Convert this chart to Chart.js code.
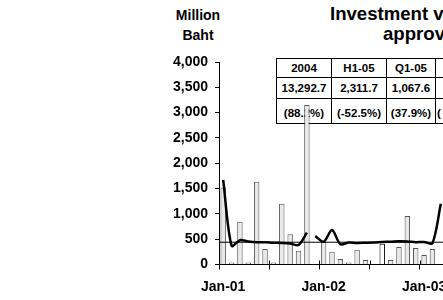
<!DOCTYPE html>
<html>
<head>
<meta charset="utf-8">
<script src="https://cdn.jsdelivr.net/npm/chart.js@4.4.1/dist/chart.umd.min.js"></script>
<style>
  html, body { margin: 0; padding: 0; background: #fff; overflow: hidden; }
  #wrap {
    position: relative; width: 443px; height: 300px; overflow: hidden;
    font-family: 'Liberation Sans', Arial, sans-serif; font-weight: bold; color: #000;
  }
  #chart { position: absolute; left: 0; top: 0; z-index: 2; }
  .lbl { position: absolute; white-space: nowrap; line-height: 1; }
  .unit { left: 168px; width: 60px; text-align: center; font-size: 14px; }
  .title { font-size: 18.6px; }
  #summary {
    position: absolute; left: 276px; top: 58px; z-index: 1;
    border-collapse: collapse; table-layout: fixed; width: 214px;
    font-size: 11.5px; background: transparent;
  }
  #summary td { border: 1px solid #000; text-align: center; padding: 0; white-space: nowrap; overflow: hidden; }
  #summary tr.r1 td { height: 18px; }
  #summary tr.r2 td { height: 19.5px; }
  #summary tr.r3 td { height: 25.5px; padding-top: 4px; box-sizing: border-box; }
  #summary td.cut { text-align: left; padding-left: 1px; }
</style>
</head>
<body>
<div id="wrap">
  <div class="lbl unit" style="top:8px">Million</div>
  <div class="lbl unit" style="top:28px">Baht</div>
  <div class="lbl title" style="left:330px;top:4.5px">Investment value of BOI</div>
  <div class="lbl title" style="left:383px;top:24.5px">approved projects</div>

  <table id="summary">
    <colgroup><col style="width:55px"><col style="width:55px"><col style="width:49px"><col style="width:55px"></colgroup>
    <tr class="r1"><td>2004</td><td>H1-05</td><td>Q1-05</td><td></td></tr>
    <tr class="r2"><td>13,292.7</td><td>2,311.7</td><td>1,067.6</td><td></td></tr>
    <tr class="r3"><td>(88.2%)</td><td>(-52.5%)</td><td>(37.9%)</td><td class="cut">(</td></tr>
  </table>

  <canvas id="chart" width="450" height="300"></canvas>
</div>

<script>
  // months on the axis (only January is labelled)
  var monthLabels = [
    'Jan-01', 'Feb-01', 'Mar-01', 'Apr-01', 'May-01', 'Jun-01', 'Jul-01', 'Aug-01', 'Sep-01', 'Oct-01', 'Nov-01', 'Dec-01',
    'Jan-02', 'Feb-02', 'Mar-02', 'Apr-02', 'May-02', 'Jun-02', 'Jul-02', 'Aug-02', 'Sep-02', 'Oct-02', 'Nov-02', 'Dec-02',
    'Jan-03', 'Feb-03', 'Mar-03'
  ];

  // monthly approved investment, million baht
  var approvedValues = [
    1520, 40, 845, 40, 1635, 305, 40, 1200, 600, 270, 3150, null,
    450, 250, 110, 40, 290, 90, 15, 410, 90, 345, 960, 325,
    190, 305, null
  ];

  // smoothed trend, Jan-01 to Nov-01 and Dec-01 onwards (line breaks between them)
  var trend2001 = [1670, 370, 480, 455, 440, 440, 430, 425, 415, 385, 630];
  var trendFrom2002 = [560, 450, 680, 400, 435, 425, 430, 435, 445, 450, 460, 455, 440, 445, 420, 1200];

  var averageValue = 440;
  var yTicks = [0, 500, 1000, 1500, 2000, 2500, 3000, 3500, 4000];

  function pad(n) { var a = []; for (var i = 0; i < n; i++) a.push(null); return a; }
  var trendA = trend2001.concat(pad(monthLabels.length - trend2001.length));
  var trendB = pad(monthLabels.length - trendFrom2002.length).concat(trendFrom2002);

  var font = { family: "'Liberation Sans', Arial, sans-serif", weight: 'bold', size: 14 };

  // thin flat line across the plot at the average level
  var averageLine = {
    id: 'averageLine',
    afterDatasetsDraw: function(chart) {
      var ctx = chart.ctx, area = chart.chartArea;
      var y = chart.scales.y.getPixelForValue(averageValue);
      ctx.save();
      ctx.strokeStyle = '#000';
      ctx.lineWidth = 1;
      ctx.beginPath();
      ctx.moveTo(area.left, y);
      ctx.lineTo(area.right, y);
      ctx.stroke();
      ctx.restore();
    }
  };

  // half-year tick marks cross the x axis (upper half drawn here)
  var crossTicks = {
    id: 'crossTicks',
    afterDraw: function(chart) {
      var ctx = chart.ctx, x = chart.scales.x, bottom = chart.chartArea.bottom;
      var half = (x.getPixelForTick(1) - x.getPixelForTick(0)) / 2;
      ctx.save();
      ctx.strokeStyle = '#000';
      ctx.lineWidth = 1;
      ctx.beginPath();
      for (var i = 6; i < monthLabels.length; i += 6) {
        var px = Math.round(x.getPixelForTick(i) - half) + 0.5;
        ctx.moveTo(px, bottom - 4);
        ctx.lineTo(px, bottom);
      }
      ctx.stroke();
      ctx.restore();
    }
  };

  var chart = new Chart(document.getElementById('chart').getContext('2d'), {
    type: 'bar',
    data: {
      labels: monthLabels,
      datasets: [{
        type: 'line',
        data: trendA,
        borderColor: '#000',
        borderWidth: 2.5,
        pointRadius: 0,
        tension: 0.3,
        spanGaps: false,
        order: 1
      }, {
        type: 'line',
        data: trendB,
        borderColor: '#000',
        borderWidth: 2.5,
        pointRadius: 0,
        tension: 0.3,
        spanGaps: false,
        order: 1
      }, {
        data: approvedValues,
        backgroundColor: approvedValues.map(function(v, i) { return i === 19 ? '#fff' : '#e8e8e8'; }),
        borderColor: approvedValues.map(function(v, i) { return i === 19 ? '#000' : '#555'; }),
        borderWidth: 1,
        barPercentage: 0.65,
        categoryPercentage: 1,
        order: 3
      }]
    },
    options: {
      responsive: false,
      animation: false,
      layout: { padding: { top: 62, right: 5, left: 0, bottom: 0 } },
      plugins: { legend: { display: false }, tooltip: { enabled: false } },
      scales: {
        x: {
          offset: true,
          grid: {
            offset: true,
            drawOnChartArea: false,
            tickLength: 5,
            color: function(c) { return c.index % 6 === 0 ? '#000' : 'rgba(0,0,0,0)'; }
          },
          border: { color: '#000', width: 1 },
          ticks: {
            autoSkip: false, maxRotation: 0, minRotation: 0, padding: 9,
            color: '#000', font: font,
            callback: function(v, i) { return monthLabels[i].indexOf('Jan') === 0 ? monthLabels[i] : ''; }
          },
          afterFit: function(s) { s.height = 35.5; }
        },
        y: {
          min: yTicks[0],
          max: yTicks[yTicks.length - 1],
          grid: { drawOnChartArea: false, tickLength: 4, color: '#000' },
          border: { color: '#000', width: 1 },
          afterBuildTicks: function(s) { s.ticks = yTicks.map(function(v) { return { value: v }; }); },
          ticks: {
            padding: 7, color: '#000', font: font,
            callback: function(v) { return v.toLocaleString('en-US'); }
          },
          afterFit: function(s) { s.width = 219; }
        }
      }
    },
    plugins: [averageLine, crossTicks]
  });
</script>
</body>
</html>
